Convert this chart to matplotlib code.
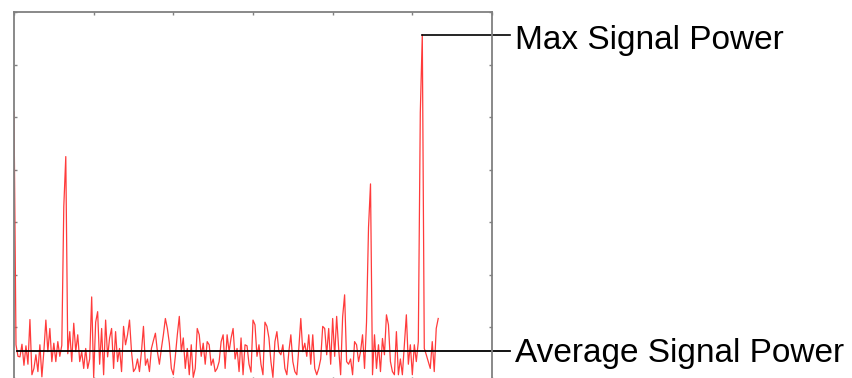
import numpy as np
from matplotlib import pyplot as plt

# spectrum samples (power, arbitrary units)
power = [5.10, 0.67, 0.45, 0.44, 0.68, 0.28, 0.65, 0.30, 1.15, 0.10,
         0.22, 0.48, 0.16, 0.67, 0.06, 0.55, 1.14, 0.54, 0.98, 0.35,
         0.70, 0.35, 0.73, 0.45, 0.66, 3.30, 4.25, 0.50, 0.92, 0.35,
         1.08, 0.54, 0.86, 0.35, 0.54, 0.22, 0.60, 0.22, 0.40, 1.58,
         0.05, 1.10, 1.30, 0.30, 0.98, 0.10, 1.14, 0.44, 0.80, 0.98,
         0.22, 0.92, 0.35, 0.60, 0.16, 1.02, 0.67, 0.86, 1.14, 0.54,
         0.16, 0.22, 0.40, 0.16, 0.54, 1.02, 0.28, 0.40, 0.16, 0.60,
         0.75, 0.89, 0.54, 0.30, 0.60, 0.86, 1.17, 0.98, 0.70, 0.22,
         0.10, 0.45, 0.86, 1.21, 0.54, 0.80, 0.22, 0.60, 0.10, 0.67,
         0.05, 0.22, 0.98, 0.86, 0.45, 0.70, 0.30, 0.73, 0.67, 0.28,
         0.40, 0.16, 0.22, 0.35, 0.73, 0.86, 0.22, 0.86, 0.54, 0.80,
         0.98, 0.40, 0.60, 0.16, 0.80, 0.10, 0.67, 0.65, 0.30, 0.15,
         1.14, 1.05, 0.45, 0.67, 0.30, 0.10, 1.10, 1.02, 0.80, 0.35,
         0.05, 0.73, 0.92, 0.54, 0.48, 0.67, 0.22, 0.10, 0.54, 0.86,
         0.35, 0.16, 0.10, 0.60, 1.17, 0.54, 0.70, 0.45, 0.86, 0.30,
         0.86, 0.22, 0.10, 0.22, 0.40, 1.02, 0.98, 0.48, 0.98, 0.30,
         1.17, 0.45, 1.21, 0.60, 0.10, 1.20, 1.62, 0.35, 0.30, 0.40,
         0.10, 0.73, 0.67, 0.35, 0.54, 0.86, 0.22, 1.10, 2.90, 3.73,
         0.10, 0.86, 0.22, 0.67, 0.16, 0.79, 0.48, 1.24, 1.05, 0.35,
         0.16, 0.10, 0.92, 0.10, 0.40, 0.10, 0.67, 1.24, 0.30, 0.67,
         0.10, 0.67, 0.35, 0.73, 5.09, 6.57, 0.60, 0.48, 0.35, 0.22,
         0.73, 0.16, 0.98, 1.17]
freq = np.arange(len(power))

avg_power = 0.55
labels = ['Max Signal Power', 'Average Signal Power']

plt.rcParams['font.family'] = ['Liberation Sans', 'DejaVu Sans']

fig = plt.figure(figsize=(8.52, 3.78), dpi=100)
ax = fig.add_axes([14 / 852, -2 / 378, 478 / 852, 368 / 378])

ax.plot(freq, power, color='#ff3b3b', lw=0.9)

ax.set_xlim(0, 240)
ax.set_ylim(0, 7)
ax.set_xticks(np.arange(0, 241, 40))
ax.set_yticks(np.arange(0, 8, 1))
ax.tick_params(direction='in', length=2.2, width=1, color='#808080',
               top=True, right=True, labelbottom=False, labelleft=False)
for s in ax.spines.values():
    s.set_color('#808080')
    s.set_linewidth(1.3)

# annotation lines running out of the axes to the labels
imax = int(np.argmax(power))
line_end = 249.2
ax.plot([freq[imax], line_end], [power[imax], power[imax]], color='black',
        lw=1.2, clip_on=False)
ax.plot([1.5, line_end], [avg_power, avg_power], color='black', lw=1.3,
        clip_on=False)

ax.text(251.5, 6.30, labels[0], fontsize=24, va='baseline', ha='left',
        clip_on=False)
ax.text(251.5, 0.343, labels[1], fontsize=24, va='baseline', ha='left',
        clip_on=False)

fig.savefig('out.png', dpi=100)
